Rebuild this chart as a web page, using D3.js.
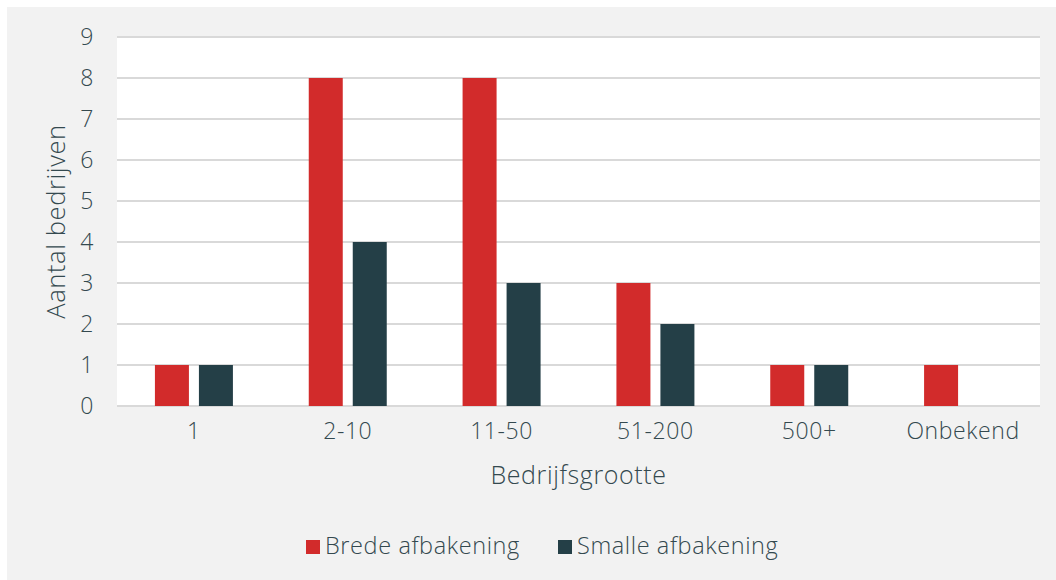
<!DOCTYPE html>
<html>
<head>
<meta charset="utf-8">
<script src="https://cdn.jsdelivr.net/npm/d3@7"></script>
<style>
  body { margin: 0; background: #fff; }
  text { font-family: "Open Sans", Lato, sans-serif; fill: #34494f; letter-spacing: 0.6px; font-weight: 300; }
</style>
</head>
<body>
<svg></svg>
<script>
const categories = ['1', '2-10', '11-50', '51-200', '500+', 'Onbekend'];
const seriesNames = ['Brede afbakening', 'Smalle afbakening'];
const brede = [1, 8, 8, 3, 1, 1];
const smalle = [1, 4, 3, 2, 1, 0];
const yTicks = [0, 1, 2, 3, 4, 5, 6, 7, 8, 9];
const colors = ['#d22b2b', '#243f47'];

const width = 1056;
const height = 580;
const margin = { top: 37, right: 16, bottom: 174, left: 117 };
const innerW = width - margin.left - margin.right;
const innerH = height - margin.top - margin.bottom;

const data = categories.map((c, i) => ({ category: c, values: [brede[i], smalle[i]] }));

const svg = d3.select('svg')
    .attr('width', width)
    .attr('height', height);

svg.append('rect')
    .attr('x', 7).attr('y', 7)
    .attr('width', width - 7).attr('height', height - 7)
    .attr('fill', '#f2f2f2');

const g = svg.append('g')
    .attr('transform', `translate(${margin.left},${margin.top})`);

g.append('rect')
    .attr('width', innerW)
    .attr('height', innerH)
    .attr('fill', '#fff');

const x = d3.scaleBand()
    .domain(categories)
    .range([0, innerW])
    .paddingInner(0)
    .paddingOuter(0);

const y = d3.scaleLinear()
    .domain([0, 9])
    .range([innerH, 0]);

// bar width ~34px, 10px gap within group
const barW = x.bandwidth() * 0.221;
const innerGap = x.bandwidth() * 0.065;
const x1 = i => (x.bandwidth() - 2 * barW - innerGap) / 2 + i * (barW + innerGap);

// gridlines
g.append('g')
    .selectAll('line')
    .data(yTicks)
    .enter().append('line')
    .attr('x1', 0)
    .attr('x2', innerW)
    .attr('y1', d => y(d))
    .attr('y2', d => y(d))
    .attr('stroke', '#d9d9d9')
    .attr('stroke-width', 2);

// bars
const groups = g.selectAll('.grp')
    .data(data)
    .enter().append('g')
    .attr('class', 'grp')
    .attr('transform', d => `translate(${x(d.category)},0)`);

groups.selectAll('rect')
    .data(d => d.values)
    .enter().append('rect')
    .attr('x', (d, i) => x1(i))
    .attr('y', d => y(d))
    .attr('width', barW)
    .attr('height', d => y(0) - y(d))
    .attr('fill', (d, i) => colors[i]);

// y axis labels
const yAxis = g.append('g')
    .call(d3.axisLeft(y).tickValues(yTicks).tickSize(0).tickPadding(23));
yAxis.select('.domain').remove();
yAxis.selectAll('text')
    .style('font-size', '23px')
    .attr('fill', '#34494f');

// x axis labels
const xAxis = g.append('g')
    .attr('transform', `translate(0,${innerH})`)
    .call(d3.axisBottom(x).tickSize(0).tickPadding(17));
xAxis.select('.domain').remove();
xAxis.selectAll('text')
    .style('font-size', '23px')
    .attr('fill', '#34494f');

svg.append('text')
    .attr('text-anchor', 'middle')
    .attr('transform', `translate(65, ${margin.top + innerH / 2 - 0}) rotate(-90)`)
    .style('font-size', '25.5px')
    .text('Aantal bedrijven');

svg.append('text')
    .attr('text-anchor', 'middle')
    .attr('x', margin.left + innerW / 2)
    .attr('y', 484)
    .style('font-size', '25px')
    .text('Bedrijfsgrootte');

// legend
const legendX = [306, 558];
const legend = svg.append('g');
seriesNames.forEach((name, i) => {
    legend.append('rect')
        .attr('x', legendX[i])
        .attr('y', 540)
        .attr('width', 14)
        .attr('height', 14)
        .attr('fill', colors[i]);
    legend.append('text')
        .attr('x', legendX[i] + 19)
        .attr('y', 554)
        .style('font-size', '23.5px')
        .text(name);
});
</script>
</body>
</html>
